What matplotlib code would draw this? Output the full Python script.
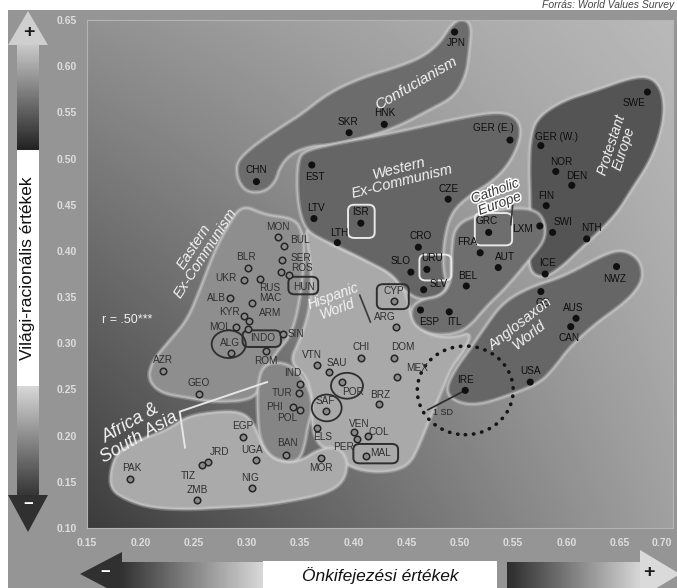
#!/usr/bin/env python3
"""
Cultural map: secular-rational vs self-expression values (World Values Survey)
"""

import numpy as np
import matplotlib
matplotlib.use('Agg')
import matplotlib.pyplot as plt
import matplotlib.transforms as mtransforms
from matplotlib.patches import Polygon, Ellipse, FancyBboxPatch, Rectangle
import matplotlib.patheffects as pe

plt.rcParams['font.family'] = ['Liberation Sans', 'DejaVu Sans']

# Country codes, self-expression (x), secular-rational (y), cultural zone
COUNTRIES = ['JPN', 'SKR', 'HNK', 'CHN',
             'GER (E.)', 'EST', 'LTV', 'ISR', 'LTH', 'CZE', 'CRO', 'SLO', 'URU', 'SLV',
             'GER (W.)', 'SWE', 'NOR', 'DEN', 'FIN', 'SWI', 'NTH', 'ICE',
             'LXM', 'GRC', 'FRA', 'AUT', 'BEL', 'ESP', 'ITL',
             'NWZ', 'GB', 'AUS', 'CAN', 'USA', 'IRE',
             'MON', 'BUL', 'SER', 'ROS', 'HUN', 'BLR', 'UKR', 'RUS', 'ALB', 'MAC',
             'KYR', 'ARM', 'MOL', 'ROM', 'AZR', 'GEO', 'POL',
             'ALG', 'INDO', 'SIN', 'VTN', 'SAU', 'IND', 'TUR', 'PHI', 'BAN',
             'CHI', 'DOM', 'MEX', 'CYP', 'ARG', 'POR', 'BRZ', 'ELS', 'VEN', 'COL', 'PER', 'MAL',
             'SAF', 'MOR', 'EGP', 'UGA', 'JRD', 'TIZ', 'PAK', 'NIG', 'ZMB']
SELF_EXPRESSION = [0.495, 0.396, 0.429, 0.309,
                   0.547, 0.361, 0.363, 0.407, 0.385, 0.489, 0.461, 0.454, 0.469, 0.466,
                   0.576, 0.676, 0.590, 0.605, 0.581, 0.587, 0.619, 0.580,
                   0.575, 0.527, 0.519, 0.536, 0.506, 0.463, 0.490,
                   0.647, 0.576, 0.609, 0.604, 0.566, 0.505,
                   0.329, 0.335, 0.333, 0.332, 0.340, 0.301, 0.297, 0.312, 0.284, 0.305,
                   0.297, 0.302, 0.290, 0.318, 0.221, 0.255, 0.350,
                   0.285, 0.301, 0.334, 0.366, 0.377, 0.350, 0.349, 0.343, 0.337,
                   0.407, 0.438, 0.441, 0.438, 0.440, 0.389, 0.424, 0.366, 0.401, 0.414, 0.403, 0.412,
                   0.374, 0.370, 0.296, 0.309, 0.264, 0.258, 0.190, 0.305, 0.253]
SECULAR_RATIONAL = [0.637, 0.528, 0.537, 0.475,
                    0.520, 0.493, 0.435, 0.430, 0.409, 0.456, 0.404, 0.377, 0.380, 0.358,
                    0.514, 0.572, 0.486, 0.471, 0.449, 0.420, 0.413, 0.375,
                    0.427, 0.420, 0.398, 0.382, 0.362, 0.336, 0.334,
                    0.383, 0.356, 0.327, 0.318, 0.258, 0.249,
                    0.415, 0.405, 0.390, 0.377, 0.374, 0.382, 0.368, 0.370, 0.349, 0.344,
                    0.329, 0.324, 0.318, 0.292, 0.270, 0.245, 0.228,
                    0.290, 0.315, 0.310, 0.277, 0.269, 0.256, 0.246, 0.231, 0.179,
                    0.284, 0.284, 0.264, 0.346, 0.318, 0.258, 0.234, 0.208, 0.204, 0.200, 0.196, 0.178,
                    0.227, 0.176, 0.198, 0.174, 0.171, 0.168, 0.153, 0.143, 0.130]
ZONES = ['conf'] * 4 + ['west'] * 10 + ['prot'] * 8 + ['cath'] * 7 + ['anglo'] * 6 + \
        ['east'] * 17 + ['asia'] * 9 + ['hisp'] * 12 + ['africa'] * 9
DARK_ZONES = ['conf', 'west', 'prot', 'cath', 'anglo']

# label offsets (pixels) relative to each dot
LABEL_OFFSETS = {
    'JPN': (2, -11), 'SKR': (-1, 11), 'HNK': (0, 11), 'CHN': (0, 12),
    'GER (E.)': (-17, 12), 'EST': (3, -12), 'LTV': (2, 11), 'ISR': (0, 11), 'LTH': (2, 10),
    'CZE': (0, 10), 'CRO': (2, 11), 'SLO': (-10, 11), 'URU': (5, 11), 'SLV': (15, 6),
    'GER (W.)': (16, 9), 'SWE': (-13, -11), 'NOR': (5, 9), 'DEN': (5, 9), 'FIN': (0, 10),
    'SWI': (10, 10), 'NTH': (5, 11), 'ICE': (2, 11),
    'LXM': (-17, -3), 'GRC': (-2, 11), 'FRA': (-13, 11), 'AUT': (7, 11), 'BEL': (1, 10),
    'ESP': (9, -12), 'ITL': (5, -10),
    'NWZ': (-2, -12), 'GB': (2, -11), 'AUS': (-3, 10), 'CAN': (-2, -11), 'USA': (0, 11), 'IRE': (0, 10),
    'MON': (0, 10), 'BUL': (16, 6), 'SER': (19, 2), 'ROS': (21, 4), 'HUN': (15, -12),
    'BLR': (-2, 11), 'UKR': (-18, 2), 'RUS': (10, -9), 'ALB': (-13, 0), 'MAC': (18, 5),
    'KYR': (-14, 4), 'ARM': (21, 8), 'MOL': (-16, 0), 'ROM': (0, -10), 'AZR': (0, 11),
    'GEO': (0, 11), 'POL': (-13, -8),
    'ALG': (-1, 10), 'INDO': (15, -9), 'SIN': (13, 0), 'VTN': (-5, 10), 'SAU': (8, 9),
    'IND': (-7, 11), 'TUR': (-17, 0), 'PHI': (-18, 0), 'BAN': (1, 12),
    'CHI': (0, 11), 'DOM': (9, 11), 'MEX': (20, 9), 'CYP': (0, 10), 'ARG': (-11, 10),
    'POR': (11, -10), 'BRZ': (1, 9), 'ELS': (5, -9), 'VEN': (5, 8), 'COL': (11, 4),
    'PER': (-13, -8), 'MAL': (14, 3),
    'SAF': (0, 10), 'MOR': (-1, -10), 'EGP': (0, 11), 'UGA': (-4, 10), 'JRD': (11, 10),
    'TIZ': (-14, -11), 'PAK': (2, 11), 'NIG': (-2, 10), 'ZMB': (1, 10),
}

X_TICKS = [0.15, 0.20, 0.25, 0.30, 0.35, 0.40, 0.45, 0.50, 0.55, 0.60, 0.65, 0.70]
Y_TICKS = [0.10, 0.15, 0.20, 0.25, 0.30, 0.35, 0.40, 0.45, 0.50, 0.55, 0.60, 0.65]

# Zone outlines (data coordinates)
EASTERN = [(0.296, 0.450), (0.317, 0.439), (0.340, 0.436), (0.350, 0.428), (0.355, 0.401),
           (0.350, 0.347), (0.342, 0.309), (0.326, 0.288), (0.314, 0.261), (0.308, 0.239),
           (0.270, 0.236), (0.244, 0.241), (0.219, 0.246), (0.207, 0.261), (0.211, 0.280),
           (0.226, 0.301), (0.244, 0.325), (0.256, 0.358), (0.270, 0.401), (0.284, 0.431)]
HISPANIC = [(0.355, 0.427), (0.378, 0.408), (0.406, 0.393), (0.430, 0.380), (0.446, 0.363),
            (0.451, 0.347), (0.455, 0.325), (0.472, 0.308), (0.495, 0.306), (0.511, 0.312),
            (0.505, 0.293), (0.492, 0.274), (0.483, 0.248), (0.472, 0.219), (0.462, 0.190),
            (0.453, 0.169), (0.436, 0.161), (0.411, 0.161), (0.392, 0.169), (0.380, 0.183),
            (0.367, 0.190), (0.361, 0.209), (0.361, 0.244), (0.355, 0.266), (0.340, 0.280),
            (0.350, 0.304), (0.359, 0.336), (0.361, 0.374), (0.357, 0.407)]
AFRICA = [(0.172, 0.163), (0.179, 0.183), (0.200, 0.196), (0.225, 0.206), (0.244, 0.221),
          (0.272, 0.226), (0.294, 0.226), (0.306, 0.215), (0.314, 0.190), (0.328, 0.172),
          (0.350, 0.172), (0.367, 0.185), (0.385, 0.188), (0.395, 0.174), (0.392, 0.152),
          (0.378, 0.139), (0.350, 0.131), (0.312, 0.124), (0.275, 0.122), (0.244, 0.120),
          (0.209, 0.122), (0.186, 0.131), (0.172, 0.142)]
SOUTH_ASIA = [(0.314, 0.274), (0.326, 0.280), (0.342, 0.276), (0.355, 0.259), (0.361, 0.241),
              (0.361, 0.225), (0.357, 0.209), (0.355, 0.193), (0.350, 0.174), (0.338, 0.171),
              (0.322, 0.177), (0.312, 0.196), (0.310, 0.225), (0.310, 0.252)]
CONFUCIAN = [(0.290, 0.491), (0.294, 0.501), (0.310, 0.517), (0.340, 0.540), (0.350, 0.547),
             (0.378, 0.572), (0.409, 0.588), (0.441, 0.599), (0.465, 0.610), (0.481, 0.625),
             (0.492, 0.645), (0.502, 0.652), (0.511, 0.645), (0.509, 0.618), (0.506, 0.591),
             (0.495, 0.567), (0.472, 0.553), (0.441, 0.534), (0.409, 0.522), (0.378, 0.514),
             (0.362, 0.514), (0.342, 0.506), (0.331, 0.491), (0.327, 0.475), (0.317, 0.464),
             (0.301, 0.463), (0.292, 0.475)]
WESTERN = [(0.348, 0.499), (0.355, 0.509), (0.387, 0.517), (0.425, 0.525), (0.462, 0.534),
           (0.500, 0.544), (0.537, 0.551), (0.554, 0.544), (0.558, 0.526), (0.549, 0.499),
           (0.533, 0.477), (0.509, 0.460), (0.492, 0.442), (0.485, 0.412), (0.484, 0.380),
           (0.489, 0.360), (0.479, 0.349), (0.461, 0.347), (0.447, 0.358), (0.436, 0.375),
           (0.416, 0.387), (0.397, 0.398), (0.373, 0.411), (0.357, 0.421), (0.350, 0.439),
           (0.347, 0.466)]
CATHOLIC = [(0.495, 0.428), (0.519, 0.440), (0.552, 0.447), (0.572, 0.444), (0.580, 0.431),
            (0.580, 0.412), (0.567, 0.393), (0.544, 0.361), (0.525, 0.340), (0.509, 0.318),
            (0.495, 0.310), (0.474, 0.309), (0.457, 0.319), (0.453, 0.336), (0.462, 0.347),
            (0.483, 0.351), (0.492, 0.367), (0.492, 0.396)]
PROTESTANT = [(0.566, 0.520), (0.572, 0.544), (0.597, 0.563), (0.628, 0.574), (0.659, 0.587),
              (0.678, 0.589), (0.689, 0.576), (0.692, 0.553), (0.688, 0.526), (0.678, 0.496),
              (0.661, 0.466), (0.648, 0.442), (0.631, 0.421), (0.612, 0.401), (0.596, 0.383),
              (0.580, 0.371), (0.567, 0.375), (0.564, 0.396), (0.566, 0.423), (0.566, 0.455),
              (0.565, 0.488)]
ANGLO = [(0.486, 0.248), (0.495, 0.271), (0.509, 0.293), (0.522, 0.315), (0.540, 0.344),
         (0.566, 0.361), (0.597, 0.372), (0.638, 0.398), (0.655, 0.401), (0.669, 0.390),
         (0.672, 0.371), (0.664, 0.355), (0.650, 0.340), (0.628, 0.322), (0.603, 0.296),
         (0.589, 0.274), (0.575, 0.257), (0.547, 0.244), (0.517, 0.233), (0.497, 0.236)]


def smooth(points, n=4):
    """Chaikin corner cutting for a closed outline"""
    p = np.asarray(points, dtype=float)
    for _ in range(n):
        nxt = np.roll(p, -1, axis=0)
        q = 0.75 * p + 0.25 * nxt
        r = 0.25 * p + 0.75 * nxt
        p = np.empty((2 * len(q), 2))
        p[0::2] = q
        p[1::2] = r
    return p


def draw_zone(ax, pts, fill, z):
    p = smooth(pts)
    ax.add_patch(Polygon(p, closed=True, facecolor=fill, edgecolor='none', zorder=z))
    ax.add_patch(Polygon(p, closed=True, fill=False, edgecolor='#d4d4d4', lw=3.2, alpha=0.3, zorder=z))
    ax.add_patch(Polygon(p, closed=True, fill=False, edgecolor='#d4d4d4', lw=1.2, alpha=0.55, zorder=z))


fig = plt.figure(figsize=(6.77, 5.88), dpi=100)
fig.patch.set_facecolor('white')

# decoration layer in pixel coordinates
deco = fig.add_axes([0, 0, 1, 1], zorder=0)
deco.set_axis_off()
deco.add_patch(Rectangle((8, 10), 669, 578, facecolor='#959595', edgecolor='none', zorder=1))


def vbar(x0, x1, y0, y1, c0, c1):
    arr = np.linspace(c0, c1, 60)[:, None]
    deco.imshow(arr, extent=(x0, x1, y1, y0), origin='upper', cmap='gray',
                vmin=0, vmax=255, aspect='auto', zorder=2)


def hbar(x0, x1, y0, y1, c0, c1):
    arr = np.linspace(c0, c1, 60)[None, :]
    deco.imshow(arr, extent=(x0, x1, y1, y0), origin='upper', cmap='gray',
                vmin=0, vmax=255, aspect='auto', zorder=2)


# vertical axis arrow
deco.add_patch(Polygon([(8, 45), (28, 11), (48, 45)], facecolor='#cfcfcf', edgecolor='none', zorder=2))
deco.text(29, 32, '+', ha='center', va='center', fontsize=14, fontweight='bold', color='#1a1a1a', zorder=3)
vbar(17, 39, 45, 150, 200, 35)
deco.add_patch(Rectangle((17, 150), 22, 236, facecolor='white', edgecolor='none', zorder=2))
deco.text(28, 268, 'Világi-racionális értékek', rotation=90, ha='center', va='center',
          fontsize=12.5, color='#111111', zorder=3)
vbar(17, 39, 386, 495, 215, 55)
deco.add_patch(Polygon([(8, 495), (48, 495), (28, 532)], facecolor='#303030', edgecolor='none', zorder=2))
deco.text(28, 505, '−', ha='center', va='center', fontsize=12, fontweight='bold', color='white', zorder=3)

# horizontal axis arrow
deco.add_patch(Polygon([(80, 574), (122, 552), (122, 596)], facecolor='#303030', edgecolor='none', zorder=2))
deco.text(105, 573, '−', ha='center', va='center', fontsize=12, fontweight='bold', color='white', zorder=3)
hbar(120, 263, 562, 588, 50, 215)
deco.add_patch(Rectangle((263, 561), 234, 27, facecolor='white', edgecolor='none', zorder=2))
deco.text(380, 576, 'Önkifejezési értékek', ha='center', va='center', fontsize=12.5,
          style='italic', color='#111111', zorder=3)
hbar(507, 642, 562, 588, 45, 215)
deco.add_patch(Polygon([(640, 550), (640, 598), (680, 574)], facecolor='#dadada', edgecolor='none', zorder=2))
deco.text(649, 573, '+', ha='center', va='center', fontsize=14, fontweight='bold', color='#1a1a1a', zorder=3)

deco.text(674, 5, 'Forrás: World Values Survey', ha='right', va='center', fontsize=7.5,
          style='italic', color='#444444', zorder=3)
deco.set_xlim(0, 677)
deco.set_ylim(588, 0)

# main chart
ax = fig.add_axes([87 / 677, 1 - 528 / 588, (673 - 87) / 677, (528 - 20) / 588], zorder=1)

gx = np.linspace(0, 1, 300)
gy = np.linspace(0, 1, 300)
GX, GY = np.meshgrid(gx, gy)
shade = 60 + 100 * GX + 85 * GY - 60 * GX * GY
ax.imshow(shade, origin='lower', extent=(0.15, 0.70, 0.10, 0.65), cmap='gray',
          vmin=0, vmax=255, aspect='auto', zorder=0, interpolation='bilinear')

draw_zone(ax, EASTERN, '#8e8e8e', 1)
draw_zone(ax, HISPANIC, '#a9a9a9', 1.5)
draw_zone(ax, AFRICA, '#aaaaaa', 1.6)
draw_zone(ax, SOUTH_ASIA, '#858585', 1.7)
draw_zone(ax, CONFUCIAN, '#6c6c6c', 2)
draw_zone(ax, WESTERN, '#656565', 2)
draw_zone(ax, CATHOLIC, '#6e6e6e', 2.1)
draw_zone(ax, PROTESTANT, '#545454', 2)
draw_zone(ax, ANGLO, '#666666', 2)

# enclosures around single countries
light_edge = '#e8e8e8'
dark_edge = '#2e2e2e'
for (x0, y0, x1, y1, col) in [(0.395, 0.414, 0.420, 0.450, light_edge),
                              (0.514, 0.406, 0.549, 0.441, light_edge),
                              (0.462, 0.368, 0.492, 0.396, light_edge),
                              (0.422, 0.337, 0.452, 0.364, dark_edge),
                              (0.339, 0.353, 0.367, 0.372, dark_edge),
                              (0.296, 0.296, 0.332, 0.314, dark_edge),
                              (0.400, 0.170, 0.442, 0.191, dark_edge)]:
    ax.add_patch(FancyBboxPatch((x0, y0), x1 - x0, y1 - y0,
                                boxstyle='round,pad=0,rounding_size=0.006',
                                fill=False, edgecolor=col, lw=1.4, zorder=4))
for (cx, cy, w, h) in [(0.283, 0.299, 0.032, 0.030),
                       (0.375, 0.230, 0.028, 0.029),
                       (0.394, 0.254, 0.030, 0.028)]:
    ax.add_patch(Ellipse((cx, cy), w, h, fill=False, edgecolor=dark_edge, lw=1.3, zorder=4))

# 1 SD circle around Ireland
sd = Ellipse((0.505, 0.249), 0.090, 0.096, fill=False, edgecolor='#151515', lw=2.6,
             linestyle=(0, (0.1, 2.2)), zorder=4)
sd.set_capstyle('round')
ax.add_patch(sd)
ax.plot([0.505, 0.470], [0.249, 0.228], color='#2a2a2a', lw=1.2, zorder=4)
ax.text(0.484, 0.225, '1 SD', fontsize=6.5, color='#222222', ha='center', va='center', zorder=6)

# pointer lines
ax.plot([0.406, 0.416], [0.352, 0.323], color='#3a3a3a', lw=1.2, zorder=4)
ax.plot([0.5496, 0.5477], [0.4498, 0.4282], color='#3a3a3a', lw=1.2, zorder=4)
ax.plot([0.319, 0.237, 0.242], [0.258, 0.226, 0.187], color='#e6e6e6', lw=1.4, zorder=4)

# countries
xs = np.array(SELF_EXPRESSION)
ys = np.array(SECULAR_RATIONAL)
dark = np.array([z in DARK_ZONES for z in ZONES])
ax.scatter(xs[dark], ys[dark], s=26, c='#101010', edgecolors='none', zorder=5)
ax.scatter(xs[~dark], ys[~dark], s=22, c='#8a8a8a', edgecolors='#262626', linewidths=1.1, zorder=5)
for name, x, y, is_dark in zip(COUNTRIES, xs, ys, dark):
    dx, dy = LABEL_OFFSETS[name]
    ax.annotate(name, (x, y), xytext=(dx, dy), textcoords='offset pixels',
                ha='center', va='center', fontsize=7.2,
                color='#0d0d0d' if is_dark else '#2f2f2f', zorder=6)

# zone names
white_kw = dict(color='#f4f4f4', style='italic', ha='center', va='center', zorder=6,
                linespacing=0.95)
ax.text(0.459, 0.581, 'Confucianism', rotation=30, fontsize=11, **white_kw)
ax.text(0.444, 0.482, 'Western\nEx-Communism', rotation=14, fontsize=10.5, **white_kw)
ax.text(0.648, 0.513, 'Protestant\nEurope', rotation=72, fontsize=10, **white_kw)
ax.text(0.256, 0.401, 'Eastern\nEx-Communism', rotation=57, fontsize=10.5, **white_kw)
ax.text(0.383, 0.344, 'Hispanic\nWorld', rotation=20, fontsize=10, **white_kw)
ax.text(0.561, 0.315, 'Anglosaxon\nWorld', rotation=38, fontsize=10.5, **white_kw)
ax.text(0.195, 0.206, 'Africa &\nSouth Asia', rotation=30, fontsize=13, **white_kw)
ax.text(0.188, 0.325, 'r = .50***', fontsize=9, color='#f0f0f0', ha='center', va='center', zorder=6)
ax.text(0.535, 0.458, 'Catholic\nEurope', rotation=20, fontsize=10, style='italic', color='#3a3a3a',
        ha='center', va='center', zorder=6, linespacing=0.95,
        path_effects=[pe.withStroke(linewidth=2.2, foreground='white')])

ax.set_xlim(0.15, 0.70)
ax.set_ylim(0.10, 0.65)
ax.set_xticks(X_TICKS)
ax.set_yticks(Y_TICKS)
ax.set_xticklabels([f'{t:.2f}' for t in X_TICKS])
ax.set_yticklabels([f'{t:.2f}' for t in Y_TICKS])
ax.tick_params(length=0, labelsize=7.5, labelcolor='#dedede', pad=7)
for lab in ax.get_xticklabels() + ax.get_yticklabels():
    lab.set_fontweight('bold')
# keep the last x tick label inside the picture
last = ax.get_xticklabels()[-1]
last.set_transform(last.get_transform() + mtransforms.ScaledTranslation(-8 / 72, 0, fig.dpi_scale_trans))
for sp in ax.spines.values():
    sp.set_color('#b4b4b4')
    sp.set_linewidth(0.8)

fig.savefig('out.png', dpi=100)
